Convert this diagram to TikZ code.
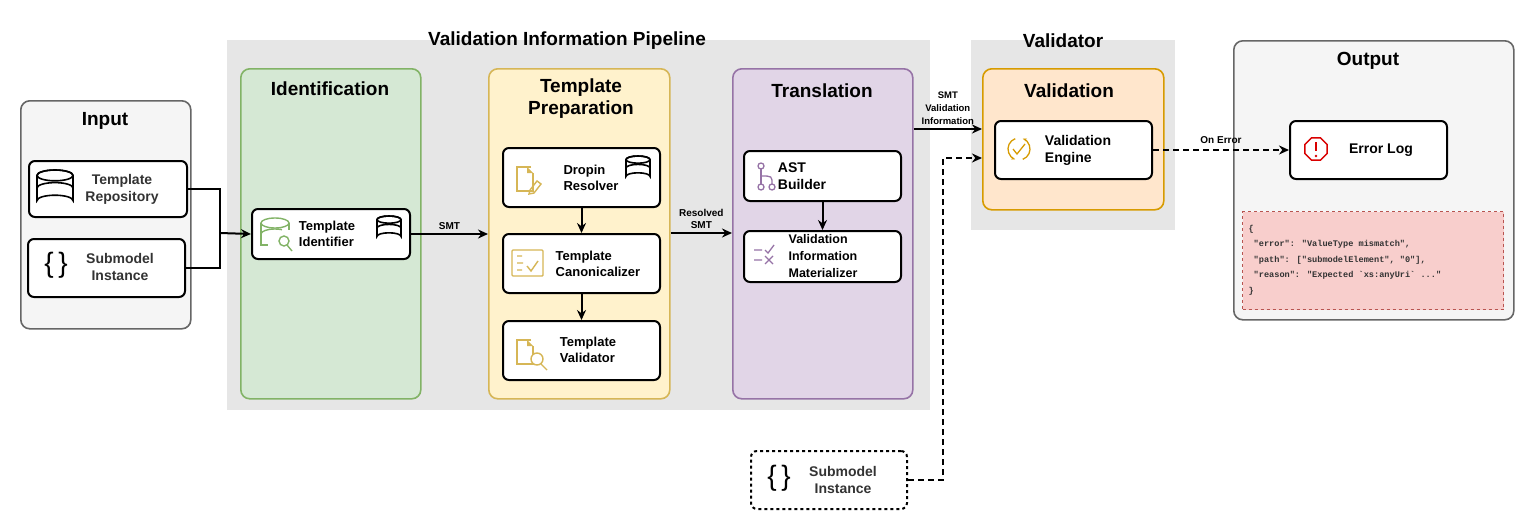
\documentclass[tikz,border=0pt]{standalone}
\usepackage{fontspec}
\setmainfont{Liberation Sans}
\newfontfamily\monof{Liberation Mono}
\usetikzlibrary{arrows.meta,calc}
\definecolor{grp}{HTML}{E6E6E6}
\definecolor{inbg}{HTML}{F5F5F5}
\definecolor{inst}{HTML}{666666}
\definecolor{gfill}{HTML}{D5E8D4}\definecolor{gline}{HTML}{82B366}
\definecolor{yfill}{HTML}{FFF2CC}\definecolor{yline}{HTML}{D6B656}
\definecolor{pfill}{HTML}{E1D5E7}\definecolor{pline}{HTML}{9673A6}
\definecolor{ofill}{HTML}{FFE6CC}\definecolor{oline}{HTML}{D79B00}
\definecolor{rfill}{HTML}{F8CECC}\definecolor{rline}{HTML}{B85450}
\definecolor{txt}{HTML}{333333}
\tikzset{
  area/.style={draw=none,fill=grp},
  lane/.style={rounded corners=9pt,line width=1.6pt},
  item/.style={draw=black,fill=white,rounded corners=6pt,line width=2pt},
  ttl/.style={font=\fontsize{19}{22}\selectfont\bfseries,align=center},
  lbl/.style={font=\fontsize{14}{17}\selectfont\bfseries,align=left,text=txt},
  small/.style={font=\fontsize{10}{12}\selectfont\bfseries,align=center},
  arr/.style={line width=2pt,-{Stealth[length=10pt,width=9pt]}},
  darr/.style={arr,dashed,dash pattern=on 6pt off 4pt},
  db/.pic={\draw[line width=1.6pt,fill=white] (-1,-0.7) -- (-1,0.7) arc[start angle=180,end angle=360,x radius=1,y radius=0.3] -- (1,-0.7) arc[start angle=0,end angle=-180,x radius=1,y radius=0.3];
    \draw[line width=1.6pt] (0,-0.7) ellipse[x radius=1,y radius=0.3];
    \draw[line width=1.6pt] (-1,0) arc[start angle=180,end angle=360,x radius=1,y radius=0.3];},
  doc/.pic={\draw[line width=1.5pt] (6,-10) -- (-8,-10) -- (-8,14) -- (8,14) -- (8,-4); \fill (2,-10) -- (8,-4) -- (2,-4) -- cycle;}
}
\begin{document}
\begin{tikzpicture}[x=1pt,y=-1pt]
\useasboundingbox (0,0) rectangle (1531,530);
% groups
\node[area,minimum width=703,minimum height=370,anchor=north west] (pipe) at (227,40) {};
\node[ttl,anchor=center] (pipeT) at (567,41) {Validation Information Pipeline};
\node[area,minimum width=204,minimum height=190,anchor=north west] (vgrp) at (971,40) {};
\node[ttl] (vgrpT) at (1063,41) {Validator};
% lanes
\node[lane,draw=inst,fill=inbg,minimum width=170,minimum height=228,anchor=north west] (inp) at (20,100) {};
\node[ttl] at (105,121) {Input};
\node[lane,draw=gline,fill=gfill,minimum width=180,minimum height=330,anchor=north west] (ident) at (240,68) {};
\node[ttl] at (330,89) {Identification};
\node[lane,draw=yline,fill=yfill,minimum width=181,minimum height=330,anchor=north west] (prep) at (488,68) {};
\node[ttl] at (581,99) {Template\\Preparation};
\node[lane,draw=pline,fill=pfill,minimum width=180,minimum height=330,anchor=north west] (trans) at (732,68) {};
\node[ttl] at (822,91) {Translation};
\node[lane,draw=oline,fill=ofill,minimum width=181,minimum height=141,anchor=north west] (valid) at (982,68) {};
\node[ttl] at (1069,91) {Validation};
\node[lane,draw=inst,fill=inbg,minimum width=280,minimum height=279,anchor=north west] (out) at (1233,40) {};
\node[ttl] at (1368,61) {Output};
% items
\node[item,minimum width=158,minimum height=56,anchor=north west] (repo) at (28,160) {};
\pic[scale=18] at (55,188) {db};
\node[lbl,align=center] at (122,189) {Template\\Repository};
\node[item,minimum width=157,minimum height=58,anchor=north west] (sub) at (27,238) {};
\node[font=\fontsize{28}{28}\selectfont] at (56,265) {\{\,\}};
\node[lbl,align=center] at (120,267) {Submodel\\Instance};
\node[item,minimum width=158,minimum height=50,anchor=north west] (tid) at (251,208) {};
\begin{scope}[gline,line width=1.4pt]
\draw (275,223) ellipse[x radius=14,y radius=5];
\draw (261,223) -- (261,245) -- (268,245); \draw (289,223) -- (289,230);
\draw (261,234) arc[start angle=180,end angle=300,x radius=14,y radius=5];
\draw (284,241) circle[radius=5]; \draw (287,245) -- (292,251);
\end{scope}
\node[lbl,font=\fontsize{13}{16}\selectfont\bfseries,text=black] at (327,234) {Template\\Identifier};
\pic[scale=12] at (389,228) {db};
\node[item,minimum width=157,minimum height=59,anchor=north west] (drop) at (502,147) {};
\pic[yline,scale=1] at (525,177) {doc};
\draw[yline,line width=1.4pt] (530,190) -- (537,181) -- (541,184) -- (534,193) -- (529,194) -- cycle;
\node[lbl,font=\fontsize{13}{16}\selectfont\bfseries,text=black] at (591,178) {Dropin\\Resolver};
\pic[scale=12] at (638,168) {db};
\node[item,minimum width=157,minimum height=59,anchor=north west] (canon) at (502,233) {};
\draw[yline,line width=1.4pt,rounded corners=1pt] (512,250) rectangle (543,276);
\draw[yline,line width=1.4pt] (517,256)--(522,256) (517,263)--(523,263) (517,270)--(522,270) (527,266)--(531,271)--(538,261);
\node[lbl,font=\fontsize{13}{16}\selectfont\bfseries,text=black] at (598,264) {Template\\Canonicalizer};
\node[item,minimum width=157,minimum height=59,anchor=north west] (tval) at (502,320) {};
\pic[yline] at (525,350) {doc};
\draw[yline,line width=1.4pt,fill=white] (537,359) circle[radius=6]; \draw[yline,line width=1.4pt] (541,364)--(547,370);
\node[lbl,font=\fontsize{13}{16}\selectfont\bfseries,text=black] at (588,350) {Template\\Validator};
\node[item,minimum width=157,minimum height=50,anchor=north west] (ast) at (743,150) {};
\begin{scope}[pline,line width=1.3pt]
\draw (761,166) circle[radius=3]; \draw (761,187) circle[radius=3]; \draw (772,187) circle[radius=3];
\draw (761,169)--(761,184); \draw (761,176) .. controls (772,176) .. (772,184);
\end{scope}
\node[lbl,font=\fontsize{14}{17}\selectfont\bfseries,text=black] at (802,176) {AST\\Builder};
\node[item,minimum width=157,minimum height=51,anchor=north west] (mat) at (743,230) {};
\begin{scope}[pline,line width=1.3pt]
\draw (754,250)--(762,250) (754,260)--(762,260) (765,250)--(768,253)--(774,245) (765,256)--(773,264) (773,256)--(765,264);
\end{scope}
\node[lbl,font=\fontsize{12.5}{17}\selectfont\bfseries,text=black] at (823,256) {Validation\\Information\\Materializer};
\node[item,minimum width=157,minimum height=58,anchor=north west] (eng) at (994,120) {};
\begin{scope}[oline,line width=1.3pt]
\draw[-{Stealth[length=4pt]}] ($(1019,149)+(-110:11)$) arc[start angle=-110,end angle=-250,radius=11];
\draw[-{Stealth[length=4pt]}] ($(1019,149)+(70:11)$) arc[start angle=70,end angle=-70,radius=11];
\draw (1013,149)--(1017,154)--(1025,144);
\end{scope}
\node[lbl,font=\fontsize{14}{17}\selectfont\bfseries,text=black] at (1078,150) {Validation\\Engine};
\node[item,minimum width=157,minimum height=58,anchor=north west] (elog) at (1289,120) {};
\draw[red!85!black,line width=1.4pt] ($(1316,149)+(22.5:12)$) \foreach \a in {67.5,112.5,...,360} {-- ($(1316,149)+(\a:12)$)} -- cycle;
\draw[red!85!black,line width=1.7pt] (1316,142)--(1316,151); \fill[red!85!black] (1316,156) circle[radius=1.3];
\node[lbl,font=\fontsize{14}{17}\selectfont\bfseries,text=black] at (1381,150) {Error Log};
\node[draw=rline,fill=rfill,dashed,line width=1.4pt,minimum width=261,minimum height=98,anchor=north west,inner sep=0] (json) at (1242,211) {};
\node[anchor=west,align=left,font=\monof\fontsize{8.6}{15.5}\selectfont\bfseries,text=txt] at (1245,260) {\{\\ \ "error": "ValueType mismatch",\\ \ "path": ["submodelElement", "0"],\\ \ "reason": "Expected `xs:anyUri` ..."\\\}};
\node[item,dashed,minimum width=156,minimum height=58,anchor=north west] (sub2) at (750,450) {};
\node[font=\fontsize{28}{28}\selectfont] at (779,478) {\{\,\}};
\node[lbl,align=center] at (843,480) {Submodel\\Instance};
% connectors
\coordinate (j) at (220,233);
\draw[line width=2pt] (repo.east) -| (j) (sub.east) -| (j);
\draw[arr] (j) -- (tid.west);
\draw[arr] (tid.east) -- node[small,above] {SMT} (prep.west |- tid.east);
\draw[arr] (drop) -- (canon); \draw[arr] (canon) -- (tval);
\draw[arr] (prep.east |- 0,233) -- node[small,above] {Resolved\\SMT} (trans.west |- 0,233);
\draw[arr] (ast) -- (mat);
\draw[arr] (trans.east |- 0,129) -- node[small,above,font=\fontsize{9.5}{13}\selectfont\bfseries] {SMT\\Validation\\Information} (valid.west |- 0,129);
\coordinate (k) at (943,158);
\draw[darr] (sub2.east) -| (k) -- (valid.west |- k);
\draw[darr] (eng.east) -- node[small,above=2pt] {On Error} (elog.west);
\end{tikzpicture}
\end{document}
